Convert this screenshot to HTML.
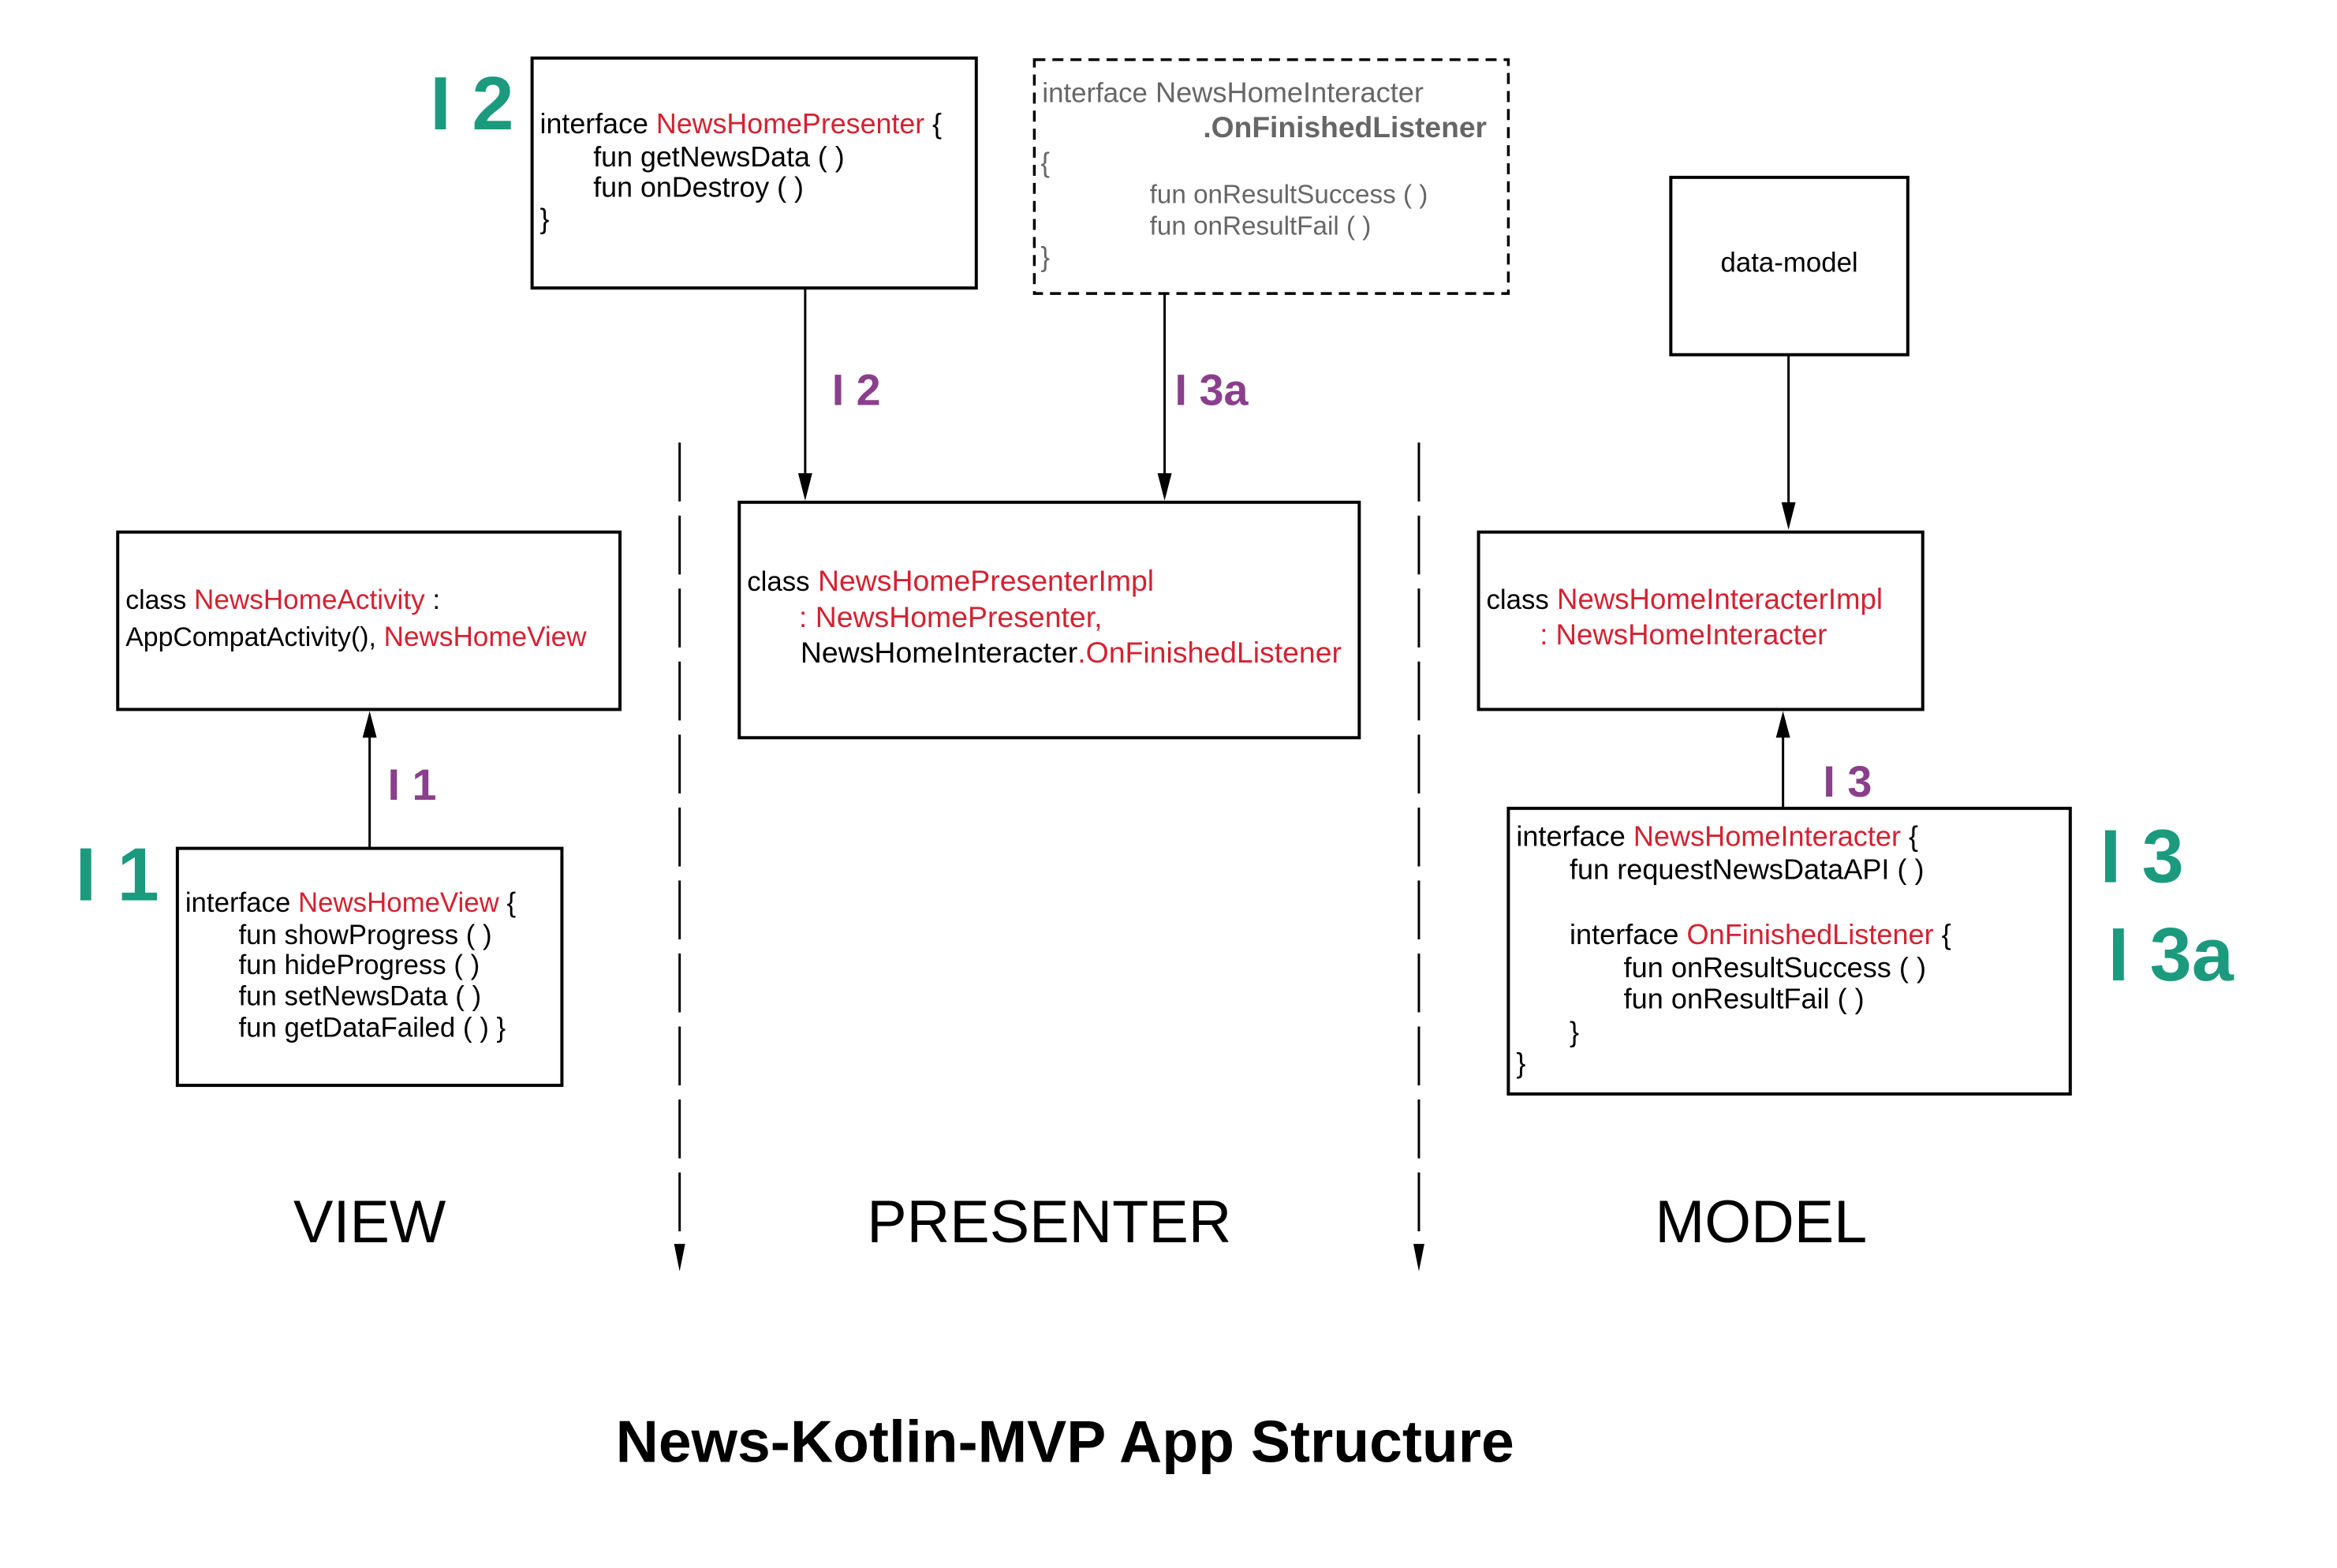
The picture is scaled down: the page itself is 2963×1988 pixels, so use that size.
<!DOCTYPE html>
<html><head><meta charset="utf-8"><style>
html,body{margin:0;padding:0;background:#fff;}
svg{display:block;}
text{font-family:"Liberation Sans",Arial,sans-serif;}
.b{fill:#000;}
.r{fill:#d32232;}
.g{fill:#1b9a7e;font-weight:bold;font-size:96px;}
.p{fill:#8a3f8c;font-weight:bold;font-size:56px;}
.gr{fill:#666;}
</style></head><body>
<svg width="2963" height="1988" viewBox="0 0 2963 1988" xmlns="http://www.w3.org/2000/svg">
<g transform="scale(0.995)">
<g fill="none" stroke="#000" stroke-width="4">
<rect x="678" y="74" width="566" height="293"/>
<rect x="1318" y="76" width="604" height="298" stroke-dasharray="14,9" stroke-width="3.5"/>
<rect x="942" y="640" width="790" height="300"/>
<rect x="2129" y="226" width="302" height="226"/>
<rect x="1884" y="678" width="566" height="226"/>
<rect x="1922" y="1030" width="716" height="364"/>
<rect x="150" y="678" width="640" height="226"/>
<rect x="226" y="1081" width="490" height="302"/>
</g>
<g stroke="#000" stroke-width="3" fill="none">
<line x1="1026" y1="367" x2="1026" y2="605"/>
<line x1="1484" y1="374" x2="1484" y2="605"/>
<line x1="2279" y1="452" x2="2279" y2="642"/>
<line x1="2272" y1="1030" x2="2272" y2="938"/>
<line x1="471" y1="1081" x2="471" y2="938"/>
<line x1="866" y1="564" x2="866" y2="1590" stroke-dasharray="75,18"/>
<line x1="1808" y1="564" x2="1808" y2="1590" stroke-dasharray="75,18"/>
</g>
<g fill="#000">
<path d="M1017,603 L1035,603 L1026,638 z"/>
<path d="M1475,603 L1493,603 L1484,638 z"/>
<path d="M2270,640 L2288,640 L2279,675 z"/>
<path d="M2263,940 L2281,940 L2272,906 z"/>
<path d="M462,940 L480,940 L471,906 z"/>
<path d="M859,1585 L873,1585 L866,1620 z"/>
<path d="M1801,1585 L1815,1585 L1808,1620 z"/>
</g>
<!-- box1 -->
<g style="font-size:36px">
<text class="b" x="688" y="170">interface <tspan class="r">NewsHomePresenter</tspan> {</text>
<text class="b" x="756" y="212">fun getNewsData ( )</text>
<text class="b" x="756" y="251">fun onDestroy ( )</text>
<text class="b" x="688" y="291">}</text>
</g>
<!-- dashed -->
<text class="b gr" x="1328" y="130" style="font-size:36.4px"><tspan style="font-size:35px">interface</tspan> NewsHomeInteracter</text>
<text class="b gr" x="1533" y="175" font-weight="bold" style="font-size:37.4px">.OnFinishedListener</text>
<text class="b gr" x="1326" y="219" style="font-size:35px">{</text>
<text class="b gr" x="1465" y="259" style="font-size:33.4px">fun onResultSuccess ( )</text>
<text class="b gr" x="1465" y="299" style="font-size:33.4px">fun onResultFail ( )</text>
<text class="b gr" x="1326" y="339" style="font-size:35px">}</text>
<!-- presenter -->
<g style="font-size:37.6px">
<text class="b" x="952" y="753"><tspan style="font-size:35px">class</tspan> <tspan class="r">NewsHomePresenterImpl</tspan></text>
<text class="b" x="1018" y="799"><tspan class="r">: NewsHomePresenter,</tspan></text>
<text class="b" x="1020" y="844">NewsHomeInteracter<tspan class="r">.OnFinishedListener</tspan></text>
</g>
<!-- view -->
<g style="font-size:35.3px">
<text class="b" x="160" y="776"><tspan style="font-size:34px">class</tspan> <tspan class="r">NewsHomeActivity</tspan> :</text>
<text class="b" x="160" y="823"><tspan style="font-size:34px">AppCompatActivity(),</tspan> <tspan class="r">NewsHomeView</tspan></text>
</g>
<!-- data model -->
<text class="b" x="2280" y="346" text-anchor="middle" style="font-size:35px">data-model</text>
<!-- interactor impl -->
<g style="font-size:36.8px">
<text class="b" x="1894" y="776"><tspan style="font-size:35px">class</tspan> <tspan class="r">NewsHomeInteracterImpl</tspan></text>
<text class="b r" x="1962" y="821">: NewsHomeInteracter</text>
</g>
<!-- interactor interface -->
<g style="font-size:36.3px">
<text class="b" x="1932" y="1078">interface <tspan class="r">NewsHomeInteracter</tspan> {</text>
<text class="b" x="2000" y="1120">fun requestNewsDataAPI ( )</text>
<text class="b" x="2000" y="1203">interface <tspan class="r">OnFinishedListener</tspan> {</text>
<text class="b" x="2069" y="1245">fun onResultSuccess ( )</text>
<text class="b" x="2069" y="1285">fun onResultFail ( )</text>
<text class="b" x="2000" y="1327">}</text>
<text class="b" x="1932" y="1367">}</text>
</g>
<!-- view interface -->
<g style="font-size:35px">
<text class="b" x="236" y="1162">interface <tspan class="r">NewsHomeView</tspan> {</text>
<text class="b" x="304" y="1203">fun showProgress ( )</text>
<text class="b" x="304" y="1241">fun hideProgress ( )</text>
<text class="b" x="304" y="1281">fun setNewsData ( )</text>
<text class="b" x="304" y="1321">fun getDataFailed ( ) }</text>
</g>
<!-- labels -->
<text class="g" x="548" y="165">I 2</text>
<text class="g" x="96" y="1147">I 1</text>
<text class="g" x="2676" y="1124">I 3</text>
<text class="g" x="2686" y="1249">I 3a</text>
<text class="p" x="1060" y="516">I 2</text>
<text class="p" x="1497" y="516">I 3a</text>
<text class="p" x="494" y="1019">I 1</text>
<text class="p" x="2323" y="1015">I 3</text>
<text x="471" y="1583" font-size="76" text-anchor="middle">VIEW</text>
<text x="1337" y="1583" font-size="76" text-anchor="middle">PRESENTER</text>
<text x="2244" y="1583" font-size="76" text-anchor="middle">MODEL</text>
<text x="1357" y="1863" font-size="75.5" font-weight="bold" text-anchor="middle">News-Kotlin-MVP App Structure</text>
</g>
</svg>
</body></html>
